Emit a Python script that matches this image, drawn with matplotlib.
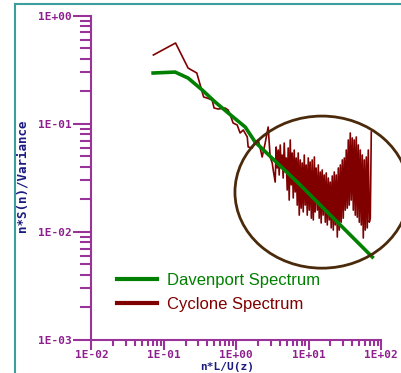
import matplotlib
matplotlib.use('Agg')
import matplotlib.pyplot as plt
from matplotlib.patches import Ellipse
from matplotlib.lines import Line2D
from matplotlib.ticker import LogLocator, NullFormatter

# Davenport spectrum
dav_x = [0.071, 0.143, 0.216, 0.337, 0.511, 0.773, 1.33, 1.82, 3.5, 7.65, 14.5, 30.0, 75.8]
dav_y = [0.295, 0.301, 0.265, 0.206, 0.159, 0.126, 0.0934, 0.0679, 0.0448, 0.0272, 0.0177, 0.0109, 0.00586]

# Cyclone spectrum (peaks and troughs)
cyc_x = [0.0716, 0.145, 0.216, 0.285, 0.354, 0.396, 0.464, 0.494, 0.562, 0.701,
         0.773, 0.824, 0.906, 1.03, 1.13, 1.25, 1.42, 1.46, 1.66, 1.82,
         2.01, 2.14, 2.28, 2.51, 2.76, 2.94, 3.14, 3.24,
         3.45, 3.56, 3.68, 3.80, 3.92, 4.05, 4.18, 4.31, 4.45, 4.60,
         4.75, 4.90, 5.06, 5.22, 5.39, 5.57, 5.75, 5.93, 6.13, 6.32,
         6.53, 6.74, 6.96, 7.18, 7.42, 7.66, 7.90, 8.16, 8.42, 8.70,
         8.98, 9.27, 9.57, 9.88, 10.2, 10.5, 10.9, 11.2, 11.6, 12.0,
         12.3, 12.7, 13.2, 13.6, 14.0, 14.5, 14.9, 15.4, 15.9, 16.4,
         17.0, 17.5, 18.1, 18.7, 19.3, 19.9, 20.5, 21.2, 21.9, 22.6,
         23.3, 24.1, 24.9, 25.7, 26.5, 27.4, 28.2, 29.2, 30.1, 31.1,
         32.1, 33.1, 34.2, 35.3, 36.4, 37.6, 38.8, 40.1, 41.4, 42.7,
         44.1, 45.5, 47.0, 48.5, 50.1, 51.7, 53.4, 55.1, 56.9, 58.7,
         60.6, 62.6, 64.6, 66.7, 68.9, 71.1, 73.4]
cyc_y = [0.433, 0.559, 0.328, 0.295, 0.177, 0.173, 0.166, 0.140, 0.137, 0.140,
         0.134, 0.121, 0.1016, 0.0975, 0.0822, 0.0877, 0.0755, 0.061, 0.0597, 0.0679,
         0.0709, 0.0597, 0.0493, 0.0664, 0.0934, 0.0493, 0.0434, 0.0374,
         0.0289, 0.0610, 0.0390, 0.0572, 0.0336, 0.0637, 0.0390, 0.0514, 0.0315, 0.0664,
         0.0358, 0.0483, 0.0244, 0.0597, 0.0197, 0.0708, 0.0272, 0.0537, 0.0206, 0.0572,
         0.0234, 0.0483, 0.0177, 0.0537, 0.0143, 0.0463, 0.0166, 0.0434, 0.0153, 0.0514,
         0.0177, 0.0416, 0.0143, 0.0483, 0.0159, 0.0443, 0.0134, 0.0463, 0.0129, 0.0493,
         0.0153, 0.0390, 0.0159, 0.0416, 0.0134, 0.0358, 0.0121, 0.0374, 0.0143, 0.0336,
         0.0123, 0.0351, 0.0116, 0.0315, 0.0129, 0.0289, 0.0109, 0.0329, 0.0104, 0.0358,
         0.0116, 0.0336, 0.00897, 0.0390, 0.0104, 0.0416, 0.0123, 0.0463, 0.0134, 0.0483,
         0.0159, 0.0572, 0.0166, 0.0708, 0.0177, 0.0822, 0.0197, 0.0739, 0.0159, 0.0708,
         0.0143, 0.0755, 0.0137, 0.0637, 0.0123, 0.0572, 0.0116, 0.0514, 0.00878, 0.0463,
         0.0104, 0.0493, 0.0109, 0.0572, 0.0123, 0.0134, 0.0840]

xticks = [0.01, 0.1, 1, 10, 100]
xticklabels = ['1E-02', '1E-01', '1E+00', '1E+01', '1E+02']
yticks = [0.001, 0.01, 0.1, 1]
yticklabels = ['1E-03', '1E-02', '1E-01', '1E+00']

purple = '#993399'
labpurple = '#8e1f8e'
navy = '#1a1a80'

fig = plt.figure(figsize=(4.02, 3.73), dpi=100)
ax = fig.add_axes([0.2276, 0.0885, 0.7202, 0.8694])

ax.plot(cyc_x, cyc_y, color='#800000', lw=1.2, zorder=2)
ax.plot(dav_x, dav_y, color='#008000', lw=2.6, zorder=3)

ax.set_xscale('log')
ax.set_yscale('log')
ax.set_xlim(0.01, 100)
ax.set_ylim(0.001, 1)

for s in ['top', 'right']:
    ax.spines[s].set_visible(False)
for s in ['left', 'bottom']:
    ax.spines[s].set_color(purple)
    ax.spines[s].set_linewidth(1.5)

ax.set_xticks(xticks)
ax.set_xticklabels(xticklabels)
ax.set_yticks(yticks)
ax.set_yticklabels(yticklabels)
ax.xaxis.set_minor_locator(LogLocator(base=10, subs=range(2, 10)))
ax.yaxis.set_minor_locator(LogLocator(base=10, subs=range(2, 10)))
ax.xaxis.set_minor_formatter(NullFormatter())
ax.yaxis.set_minor_formatter(NullFormatter())

ax.tick_params(axis='y', which='major', length=13, width=1.5, color=purple, pad=1)
ax.tick_params(axis='y', which='minor', length=8, width=1.5, color=purple)
ax.tick_params(axis='x', which='major', length=7, width=1.5, color=purple, pad=0.5)
ax.tick_params(axis='x', which='minor', length=4, width=1.5, color=purple)
for lab in ax.get_xticklabels() + ax.get_yticklabels():
    lab.set_fontfamily('DejaVu Sans Mono')
    lab.set_fontweight('bold')
    lab.set_fontsize(8)
    lab.set_color(labpurple)

fig.text(0.054, 0.53, 'n*S(n)/Variance', rotation=90, ha='center', va='center',
         family='DejaVu Sans Mono', weight='bold', fontsize=9, color=navy)
fig.text(0.565, 0.004, 'n*L/U(z)', ha='center', va='bottom',
         family='DejaVu Sans Mono', weight='bold', fontsize=8, color=navy)

# highlight circle
ax.add_patch(Ellipse((0.796, 0.456), 0.601, 0.469, transform=ax.transAxes,
                     fill=False, edgecolor='#4a2a0a', lw=2, clip_on=False, zorder=4))

# legend
handles = [Line2D([], [], color='#008000', lw=3), Line2D([], [], color='#800000', lw=3)]
leg = fig.legend(handles, ['Davenport Spectrum', 'Cyclone Spectrum'],
                 loc='upper left', bbox_to_anchor=(117 / 402, 1 - 273 / 373),
                 frameon=False, prop={'family': 'Liberation Sans', 'size': 12},
                 handlelength=2.4, handletextpad=0.6, labelspacing=0.55,
                 borderpad=0, borderaxespad=0, labelcolor='linecolor')

# outer teal frame
fig.add_artist(Line2D([15 / 402, 15 / 402], [0, 1 - 4 / 373], color='#3a9e9e', lw=1.5))
fig.add_artist(Line2D([15 / 402, 1], [1 - 4 / 373, 1 - 4 / 373], color='#3a9e9e', lw=1.5))

plt.savefig('out.png', dpi=100)
